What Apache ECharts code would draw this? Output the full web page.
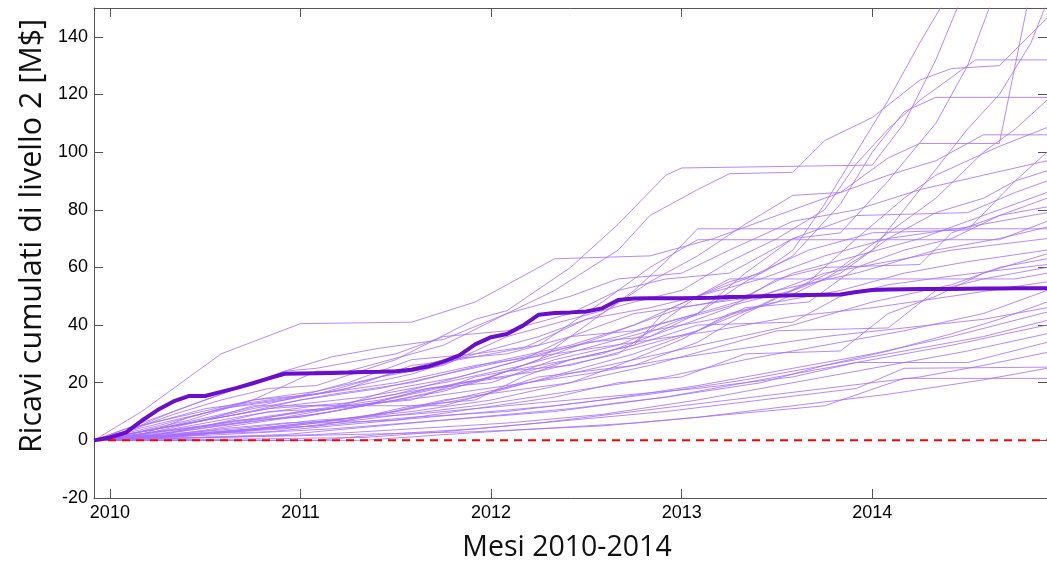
<!DOCTYPE html>
<html>
<head>
<meta charset="utf-8">
<script src="https://cdn.jsdelivr.net/npm/echarts@6/dist/echarts.min.js"></script>
<style>
  html, body { margin: 0; padding: 0; background: #fff; }
  #chart { width: 1047px; height: 561px; }
</style>
</head>
<body>
<div id="chart"></div>
<script>
// Months are counted from Dec 2009 (month 0) to Dec 2014 (month 60)
const tickMonths = [1, 13, 25, 37, 49];
const tickYears = ['2010', '2011', '2012', '2013', '2014'];
const yTicks = [-20, 0, 20, 40, 60, 80, 100, 120, 140];

// Reference (thick) cumulative revenue path, one value per month, M$
const mainPath = [
  0, 1, 2.7, 6.8, 10.5, 13.5, 15.4, 15.4, 16.8, 18.2,
  19.8, 21.5, 23.1, 23.2, 23.3, 23.4, 23.5, 23.7, 23.8, 24,
  24.5, 25.6, 27.3, 29.5, 33.3, 35.8, 36.9, 39.8, 43.6, 44.2,
  44.4, 44.7, 45.8, 48.7, 49.2, 49.3, 49.3, 49.3, 49.4, 49.5,
  49.7, 49.8, 50, 50.2, 50.3, 50.4, 50.5, 50.6, 51.5, 52.2,
  52.3, 52.4, 52.5, 52.5, 52.5, 52.6, 52.7, 52.7, 52.8, 52.8, 52.8
];

// Simulated scenarios: [month, cumulative M$] at each change of slope
const runsHigh = [
  [[0,0],[2,3],[5,9],[8,14],[11,18],[14,19],[19,28],[24,42],[26,45],[30,60],[33,75],[36,92],[37,94.5],[49,95.5],[51,110],[53,132],[54.5,152]],
  [[0,0],[3,2],[6,8],[10,14],[14,24],[16,24],[22,33],[26,44],[29,52],[33,66],[35,78],[38,87],[40,92.5],[44,93],[46,104],[49,112],[52,125],[54,129],[57,130],[60,146.5]],
  [[0,0],[4,1],[8,4],[12,6],[16,7],[20,12],[24,14],[27,22],[30,28],[34,33],[36,45],[40,55],[42,58],[44,66],[46,82],[48,100],[50,118],[52,138],[53.5,152]],
  [[0,0],[3,3],[7,7],[10,12],[15,12],[19,16],[23,22],[27,28],[30,36],[34,38],[38,44],[41,58],[44,70],[47,72],[50,90],[53,110],[55,130],[56.5,152]],
  [[0,0],[5,1],[10,4],[14,5],[18,9],[22,14],[26,17],[30,20],[33,26],[37,35],[40,44],[43,48],[46,56],[49,66],[51,80],[53,94],[55,108],[57,120],[59,138],[60,152]],
  [[0,0],[4,5],[8,11],[12,14],[16,20],[20,28],[24,30],[28,36],[32,44],[35,55],[38,64],[41,75],[44,85],[47,86],[50,98],[52,103],[57,103],[58.8,152]],
  [[0,0],[2,2],[6,7],[10,14],[14,16],[18,22],[22,26],[26,36],[30,42],[34,48],[37,52],[40,62],[43,70],[46,80],[48,96],[50,108],[52,118],[54,126],[55.5,132],[60,132]],
  [[0,0],[3,1],[7,5],[11,10],[15,11],[19,18],[23,22],[27,28],[31,34],[35,36],[38,44],[41,55],[44,64],[47,82],[49,100],[51,114],[53,119],[60,119]],
  [[0,0],[4,3],[9,6],[13,10],[17,12],[21,18],[25,20],[29,28],[33,33],[37,42],[41,48],[44,52],[47,60],[50,72],[53,84],[56,100],[58,108],[60,118]],
  [[0,0],[5,3],[9,7],[13,8],[18,13],[22,17],[26,24],[30,26],[34,32],[38,38],[42,47],[45,55],[48,70],[51,84],[53,92],[57,102],[60,108.5]],
  [[0,0],[3,10],[6,22],[8,30],[13,40.5],[20,41],[24,48],[27,57],[29,63],[35,64],[39,70],[43,78],[47,86],[50,92],[53,97],[56,106],[60,106]],
  [[0,0],[3,6],[6,12],[9,18],[12,24],[15,29],[18,32],[22,35],[26,44],[30,50],[33,56],[37,58],[40,66],[44,76],[48,80],[52,87],[56,92],[60,97]]
];

const runsMid = [
  [[0,0],[6,2],[10,4],[15,7],[19,10],[24,15],[28,22],[31,24],[34,26],[38,34],[41,44],[44,52],[47,58],[50,70],[53,79],[56,84],[58,90],[60,100]],
  [[0,0],[4,4],[8,9],[12,14],[16,18],[20,26],[23,28],[27,32],[31,42],[35,46],[38,50],[41,56],[45,66],[49,72],[55,73],[58,90],[60,93.5]],
  [[0,0],[2,3],[5,10],[8,16],[12,24],[14,25],[19,30],[22,36],[26,38],[30,44],[33,52],[36,56],[40,58],[44,70],[48,78],[55,79],[58,86],[60,90]],
  [[0,0],[4,2],[8,5],[12,8],[16,12],[20,14],[24,22],[28,26],[32,30],[36,38],[40,46],[43,56],[46,60],[52,61],[54,72],[56,76],[60,84]],
  [[0,0],[5,4],[10,9],[14,12],[22,12],[26,18],[30,24],[34,30],[38,38],[41,46],[45,48],[48,60],[51,66],[54,70],[57,78],[60,81]],
  [[0,0],[3,5],[7,11],[11,14],[15,17],[20,23],[24,30],[28,33],[32,48],[35,60],[38,69.6],[57,69.6],[60,76]],
  [[0,0],[4,2],[9,6],[14,9],[19,14],[24,20],[28,28],[31,40],[34,52],[36,62],[38,73.4],[60,73.4]],
  [[0,0],[2,4],[6,9],[10,14],[14,17],[18,22],[22,28],[26,30],[30,36],[34,44],[38,47],[42,50],[46,58],[50,62],[54,66],[60,70]],
  [[0,0],[4,1],[9,3],[14,6],[19,7],[24,11],[29,15],[33,20],[37,22],[41,30],[47,31],[50,44],[53,50],[56,58],[60,64.7]],
  [[0,0],[3,2],[7,7],[11,11],[16,13],[21,18],[26,22],[30,28],[34,33],[38,40],[44,41],[47,50],[50,54],[54,57],[60,61]],
  [[0,0],[5,2],[10,4],[15,7],[20,10],[25,14],[30,20],[35,26],[39,32],[43,38],[50,39],[53,52],[56,56],[60,60]],
  [[0,0],[4,4],[8,8],[12,12],[17,15],[22,20],[27,26],[31,32],[35,38],[39,42],[43,48],[47,52],[51,58],[55,62],[60,66]],
  [[0,0],[3,3],[6,6],[10,11],[15,16],[20,20],[25,27],[30,33],[34,40],[38,50],[42,56],[46,64],[50,70],[55,74],[60,79]],
  [[0,0],[5,2],[10,6],[15,10],[20,16],[25,22],[29,30],[33,38],[37,46],[41,50],[44,58],[48,64],[52,70],[56,78],[60,86]],
  [[0,0],[2,2],[5,5],[9,9],[13,14],[18,18],[23,24],[28,30],[33,36],[38,44],[43,52],[48,58],[53,66],[57,70],[60,74]],
  [[0,0],[4,1],[9,3],[14,6],[19,10],[24,16],[29,22],[34,28],[39,34],[44,40],[49,48],[54,54],[57,60],[60,63]]
];

const runsLow = [
  [[0,0],[4,3],[8,6],[13,10],[18,14],[23,20],[28,24],[33,30],[38,50],[40,56],[58,56],[60,58]],
  [[0,0],[2,3],[5,7],[9,12],[14,16],[19,20],[24,26],[29,30],[34,34],[39,38],[44,43],[49,46],[54,50],[60,55]],
  [[0,0],[6,2],[12,4],[18,8],[24,12],[30,17],[36,22],[41,28],[46,33],[51,38],[56,44],[60,52]],
  [[0,0],[6,1],[12,2],[18,5],[24,8],[30,11],[36,15],[42,20],[46,26],[50,31],[54,37],[57,42],[60,48]],
  [[0,0],[3,2],[7,5],[11,8],[16,12],[21,15],[26,19],[31,23],[36,28],[41,32],[46,36],[51,39],[56,42],[60,46]],
  [[0,0],[3,1],[8,3],[14,5],[20,8],[26,10],[32,14],[38,19],[44,25],[49,30],[54,36],[60,44.5]],
  [[0,0],[5,2],[11,3],[17,6],[23,9],[29,12],[35,16],[41,21],[47,27],[52,32],[56,36],[60,41.6]],
  [[0,0],[8,2],[15,4],[22,7],[29,10],[36,15],[42,21],[48,27],[54,33],[60,40]],
  [[0,0],[7,1],[14,2],[20,4],[26,6],[32,9],[38,14],[44,20],[50,26],[55,31],[60,37]],
  [[0,0],[4,2],[9,4],[14,7],[20,9],[26,12],[32,15],[38,18],[44,22],[48,27],[55,27],[60,34]],
  [[0,0],[10,0.5],[17,1],[22,3],[28,6],[34,10],[40,14],[46,18],[52,22],[56,26],[60,30.5]],
  [[0,0],[14,0],[18,2],[24,4],[30,7],[36,10],[42,14],[48,18],[51,25],[60,25.4]],
  [[0,0],[8,1],[16,2],[24,3],[32,5],[38,8],[44,12],[50,16],[56,21],[58,23],[60,25]],
  [[0,0],[17,0],[22,2],[28,4],[34,6],[40,9],[46,12],[51,21.5],[60,21.5]]
];

const zeroLine = [[0, 0], [60, 0]];

const axisGray = '#555555';
const tickFontFamily = '"Liberation Sans", Arial, sans-serif';
const titleFont = '"Open Sans", sans-serif';

const chart = echarts.init(document.getElementById('chart'), null, { renderer: 'canvas' });

const thinStyle = { color: '#a66fff', width: 1, opacity: 0.82 };
const runSeries = [].concat(runsHigh, runsMid, runsLow).map(function (run) {
  return {
    type: 'line', data: run, showSymbol: false, silent: true,
    lineStyle: thinStyle, z: 2
  };
});

function frameAxis(position, labelled, ticks) {
  return {
    type: 'value', position: position,
    axisLine: { show: true, onZero: false, lineStyle: { color: axisGray, width: 1 } },
    axisTick: { show: true, inside: true, length: 9, customValues: ticks, lineStyle: { color: axisGray } },
    axisLabel: labelled ? {
      customValues: ticks, margin: 6,
      fontFamily: tickFontFamily, fontSize: 18, color: '#000'
    } : { show: false },
    splitLine: { show: false }
  };
}

const xBottom = Object.assign(frameAxis('bottom', true, tickMonths), { min: 0, max: 60 });
xBottom.axisLabel.formatter = function (v) { return tickYears[tickMonths.indexOf(v)]; };
const xTop = Object.assign(frameAxis('top', false, tickMonths), { min: 0, max: 60 });
const yLeft = Object.assign(frameAxis('left', true, yTicks), { min: -20, max: 150 });
const yRight = Object.assign(frameAxis('right', false, yTicks), { min: -20, max: 150 });

const option = {
  animation: false,
  grid: { left: 94, right: 0, top: 8, bottom: 63, containLabel: false },
  xAxis: [xBottom, xTop],
  yAxis: [yLeft, yRight],
  graphic: [
    {
      type: 'text', x: 567, y: 548,
      style: {
        text: 'Mesi 2010-2014', fill: '#111',
        font: '28.5px ' + titleFont, textAlign: 'center', textVerticalAlign: 'middle'
      }
    },
    {
      type: 'text', x: 32, y: 236, rotation: Math.PI / 2,
      style: {
        text: 'Ricavi cumulati di livello 2 [M$]', fill: '#111',
        font: '30.5px ' + titleFont, textAlign: 'center', textVerticalAlign: 'middle'
      }
    }
  ],
  series: runSeries.concat([
    {
      type: 'line', data: zeroLine, showSymbol: false, silent: true,
      lineStyle: { color: '#ff0000', width: 2, type: [8, 6] }, z: 3
    },
    {
      type: 'line', data: mainPath.map(function (v, i) { return [i, v]; }),
      showSymbol: false, silent: true,
      lineStyle: { color: '#6a0dcc', width: 4 }, z: 5
    }
  ])
};

chart.setOption(option);
</script>
</body>
</html>
